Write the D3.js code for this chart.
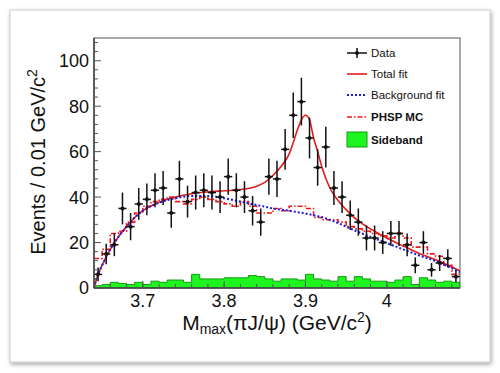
<!DOCTYPE html>
<html lang="en">
<head>
<meta charset="UTF-8">
<title>M_max(piJ/psi) fit</title>
<script src="https://d3js.org/d3.v7.min.js"></script>
<style>
    body { margin: 0; background: #fff; }
    svg text { font-family: "Liberation Sans", Arial, Helvetica, sans-serif; fill: #111; }
</style>
</head>
<body>
<script>
    // bins of 0.01 GeV/c2 starting at 3.64
    var binLow = 3.64, binWidth = 0.01;
    var dataCounts = [6, 15, 19, 35, 27, 37, 39, 43, 44, 33, 48, 38, 42, 43, 42, 40, 49, 43, 40, 34, 29, 49, 48,
        61, 76, 82, 66, 53, 62, 44, 40, 32, 29, 22, 22, 20, 24, 24, 19, 10, 20, 8, 11, 13, 5];
    var dataErrors = [3, 4.5, 5, 7, 6, 7, 7, 7.5, 7.5, 6.5, 8, 7, 7.5, 7.5, 7.5, 7, 8, 7.5, 7, 6.5, 6, 8, 8,
        9, 10, 10.5, 9, 8, 9, 7.5, 7, 6.5, 6, 5.5, 5.5, 5, 5.5, 5.5, 5, 3.5, 5, 3, 3.5, 4, 2.5];
    var phspCounts = [13, 17, 24, 25, 29, 33, 36, 38, 39, 40, 38, 37, 39, 40, 39, 38, 37, 36, 38, 36, 33, 33, 35,
        34, 36, 36, 35, 31, 30, 30, 29, 27, 26, 25, 24, 23, 22, 24, 22, 18, 18, 15, 14, 10, 6];
    var sidebandCounts = [1, 1.5, 2.5, 2, 1.5, 2.5, 1.5, 3, 2.5, 3.5, 3.5, 2.5, 6, 4, 4, 4, 4.5, 4.5, 4.5, 5.5, 5, 4, 3,
        4, 4, 3.5, 6, 4, 3.5, 3, 5, 3, 5, 4, 3, 3, 2.5, 3.5, 5, 1.5, 4.5, 3.5, 2.5, 3, 2.5];

    // fit curves
    var fitX = [3.64, 3.645, 3.65, 3.66, 3.67, 3.68, 3.69, 3.70, 3.72, 3.74, 3.76, 3.78, 3.80, 3.82, 3.84, 3.85,
        3.86, 3.87, 3.88, 3.885, 3.89, 3.895, 3.90, 3.905, 3.91, 3.915, 3.92, 3.93, 3.94, 3.95, 3.96, 3.98,
        4.00, 4.02, 4.04, 4.06, 4.08, 4.09];
    var bkgFit = [0, 6, 10, 17, 22.5, 27, 31, 34, 37.5, 39.5, 40.5, 40.5, 39.5, 38, 36.5, 35.8,
        35, 34.5, 34, 33.7, 33.4, 33.1, 32.8, 32.4, 32, 31.6, 31.2, 30, 28.6, 27, 25.4, 22.5,
        19.8, 17, 14.3, 11.8, 8.7, 7];
    var totalFit = [0, 6, 10, 17, 22.5, 27, 31, 34, 37.7, 40, 41.5, 42.3, 42.8, 43.3, 44.8, 46.5,
        49.5, 53.5, 59, 64, 69.5, 74, 76, 74, 66, 60, 53.5, 44, 38.5, 34.5, 31, 26,
        22, 18.5, 15.2, 12.4, 9.2, 7.5];

    var xTicks = [3.7, 3.8, 3.9, 4.0];
    var xTickLabels = ["3.7", "3.8", "3.9", "4"];
    var yTicks = [0, 20, 40, 60, 80, 100];

    var W = 500, H = 373;
    var svg = d3.select("body").append("svg")
        .attr("width", W)
        .attr("height", H);

    // card with shadow
    var defs = svg.append("defs");
    var f = defs.append("filter").attr("id", "shadow")
        .attr("x", "-5%").attr("y", "-5%").attr("width", "110%").attr("height", "112%");
    f.append("feDropShadow").attr("dx", 1).attr("dy", 2).attr("stdDeviation", 2)
        .attr("flood-color", "#000").attr("flood-opacity", 0.35);
    svg.append("rect")
        .attr("x", 10).attr("y", 10).attr("width", 480).attr("height", 352)
        .attr("fill", "#fff").attr("stroke", "#ccc")
        .attr("filter", "url(#shadow)");

    var x = d3.scaleLinear().domain([3.64, 4.09]).range([94, 460]);
    var y = d3.scaleLinear().domain([0, 110]).range([288, 38]);

    defs.append("clipPath").attr("id", "plotclip")
        .append("rect").attr("x", 94).attr("y", 38).attr("width", 366).attr("height", 250);

    var plot = svg.append("g").attr("clip-path", "url(#plotclip)");

    // sideband histogram (filled steps)
    var sideArea = d3.area()
        .x(function (d) { return x(d.x); })
        .y0(y(0))
        .y1(function (d) { return y(d.v); })
        .curve(d3.curveStepAfter);
    var sideData = sidebandCounts.map(function (v, i) { return { x: binLow + i * binWidth, v: v }; });
    sideData.push({ x: binLow + sidebandCounts.length * binWidth, v: sidebandCounts[sidebandCounts.length - 1] });
    plot.append("path")
        .attr("d", sideArea(sideData))
        .attr("fill", "#1ef51e")
        .attr("stroke", "#139a13")
        .attr("stroke-width", 1);

    // PHSP MC histogram (dash-dot steps)
    var stepLine = d3.line()
        .x(function (d) { return x(d.x); })
        .y(function (d) { return y(d.v); })
        .curve(d3.curveStepAfter);
    var phspData = phspCounts.map(function (v, i) { return { x: binLow + i * binWidth, v: v }; });
    phspData.push({ x: binLow + phspCounts.length * binWidth, v: phspCounts[phspCounts.length - 1] });
    plot.append("path")
        .attr("d", stepLine(phspData))
        .attr("fill", "none")
        .attr("stroke", "#f01818")
        .attr("stroke-width", 1.6)
        .attr("stroke-dasharray", "5,2,1.5,2");

    // fit curves
    var fitLine = d3.line()
        .x(function (d) { return x(d[0]); })
        .y(function (d) { return y(d[1]); })
        .curve(d3.curveMonotoneX);
    plot.append("path")
        .attr("d", fitLine(d3.zip(fitX, totalFit)))
        .attr("fill", "none")
        .attr("stroke", "#e41c1c")
        .attr("stroke-width", 1.6);
    plot.append("path")
        .attr("d", fitLine(d3.zip(fitX, bkgFit)))
        .attr("fill", "none")
        .attr("stroke", "#1a1ae6")
        .attr("stroke-width", 2)
        .attr("stroke-dasharray", "2,2");

    // data points with errors
    var pts = plot.selectAll(".pt")
        .data(dataCounts.map(function (v, i) { return { x: binLow + (i + 0.5) * binWidth, v: v, e: dataErrors[i] }; }))
        .enter().append("g").attr("class", "pt");
    pts.append("line")
        .attr("x1", function (d) { return x(d.x); })
        .attr("x2", function (d) { return x(d.x); })
        .attr("y1", function (d) { return y(d.v - d.e); })
        .attr("y2", function (d) { return y(d.v + d.e); })
        .attr("stroke", "#111").attr("stroke-width", 1.5);
    pts.append("line")
        .attr("x1", function (d) { return x(d.x - binWidth / 2); })
        .attr("x2", function (d) { return x(d.x + binWidth / 2); })
        .attr("y1", function (d) { return y(d.v); })
        .attr("y2", function (d) { return y(d.v); })
        .attr("stroke", "#111").attr("stroke-width", 1.5);
    pts.append("circle")
        .attr("cx", function (d) { return x(d.x); })
        .attr("cy", function (d) { return y(d.v); })
        .attr("r", 2)
        .attr("fill", "#111");

    // frame
    svg.append("rect")
        .attr("x", 94).attr("y", 38).attr("width", 366).attr("height", 250)
        .attr("fill", "none").attr("stroke", "#555").attr("stroke-width", 1);
    svg.append("line").attr("x1", 94).attr("x2", 94).attr("y1", 38).attr("y2", 288)
        .attr("stroke", "#444").attr("stroke-width", 1.5);
    svg.append("line").attr("x1", 94).attr("x2", 460).attr("y1", 288).attr("y2", 288)
        .attr("stroke", "#444").attr("stroke-width", 1.5);

    // y axis ticks (inside)
    var yMinor = d3.range(0, 111, 4).filter(function (v) { return v % 20 !== 0; });
    svg.selectAll(".ymin").data(yMinor).enter().append("line")
        .attr("x1", 94).attr("x2", 98)
        .attr("y1", function (d) { return y(d); }).attr("y2", function (d) { return y(d); })
        .attr("stroke", "#555").attr("stroke-width", 1);
    svg.selectAll(".ymaj").data(yTicks).enter().append("line")
        .attr("x1", 94).attr("x2", 101)
        .attr("y1", function (d) { return y(d); }).attr("y2", function (d) { return y(d); })
        .attr("stroke", "#555").attr("stroke-width", 1);
    svg.selectAll(".ylab").data(yTicks).enter().append("text")
        .attr("x", 89)
        .attr("y", function (d) { return y(d); })
        .attr("dy", "0.36em")
        .attr("text-anchor", "end")
        .attr("font-size", 18)
        .text(function (d) { return d; });

    // x axis ticks (inside)
    var xMinor = d3.range(0, 23).map(function (i) { return 3.64 + i * 0.02; });
    svg.selectAll(".xmin").data(xMinor).enter().append("line")
        .attr("x1", function (d) { return x(d); }).attr("x2", function (d) { return x(d); })
        .attr("y1", 288).attr("y2", 284)
        .attr("stroke", "#555").attr("stroke-width", 1);
    svg.selectAll(".xmaj").data(xTicks).enter().append("line")
        .attr("x1", function (d) { return x(d); }).attr("x2", function (d) { return x(d); })
        .attr("y1", 288).attr("y2", 281)
        .attr("stroke", "#555").attr("stroke-width", 1);
    svg.selectAll(".xlab").data(xTicks).enter().append("text")
        .attr("x", function (d) { return x(d); })
        .attr("y", 306.5)
        .attr("text-anchor", "middle")
        .attr("font-size", 18)
        .text(function (d, i) { return xTickLabels[i]; });

    // axis titles
    var xt = svg.append("text")
        .attr("x", 277).attr("y", 330)
        .attr("text-anchor", "middle")
        .attr("font-size", 21);
    xt.append("tspan").text("M");
    xt.append("tspan").attr("font-size", 14).attr("dy", 4).text("max");
    xt.append("tspan").attr("dy", -4).text("(\u03c0J/\u03c8) (GeV/c");
    xt.append("tspan").attr("font-size", 14).attr("dy", -8).text("2");
    xt.append("tspan").attr("dy", 8).text(")");

    var yt = svg.append("text")
        .attr("transform", "translate(45,162) rotate(-90)")
        .attr("text-anchor", "middle")
        .attr("font-size", 20);
    yt.append("tspan").text("Events / 0.01 GeV/c");
    yt.append("tspan").attr("font-size", 14).attr("dy", -8).text("2");

    // legend
    var lg = svg.append("g").attr("font-size", 11.5);
    var lx0 = 347, lx1 = 367, ltx = 371;
    lg.append("line").attr("x1", lx0).attr("x2", lx1).attr("y1", 53).attr("y2", 53)
        .attr("stroke", "#111").attr("stroke-width", 1.5);
    lg.append("line").attr("x1", 357).attr("x2", 357).attr("y1", 48).attr("y2", 58)
        .attr("stroke", "#111").attr("stroke-width", 1.5);
    lg.append("circle").attr("cx", 357).attr("cy", 53).attr("r", 2).attr("fill", "#111");
    lg.append("text").attr("x", ltx).attr("y", 57).text("Data");

    lg.append("line").attr("x1", lx0).attr("x2", lx1).attr("y1", 74).attr("y2", 74)
        .attr("stroke", "#e41c1c").attr("stroke-width", 1.6);
    lg.append("text").attr("x", ltx).attr("y", 78).text("Total fit");

    lg.append("line").attr("x1", lx0).attr("x2", lx1).attr("y1", 95).attr("y2", 95)
        .attr("stroke", "#1a1ae6").attr("stroke-width", 2).attr("stroke-dasharray", "2,2");
    lg.append("text").attr("x", ltx).attr("y", 99).text("Background fit");

    lg.append("line").attr("x1", lx0).attr("x2", lx1).attr("y1", 117).attr("y2", 117)
        .attr("stroke", "#f01818").attr("stroke-width", 1.6).attr("stroke-dasharray", "5,2,1.5,2");
    lg.append("text").attr("x", ltx).attr("y", 121).attr("font-weight", "bold").text("PHSP MC");

    lg.append("rect").attr("x", lx0).attr("y", 132).attr("width", 20).attr("height", 15)
        .attr("fill", "#1ef51e").attr("stroke", "#139a13").attr("stroke-width", 1);
    lg.append("text").attr("x", ltx).attr("y", 144).attr("font-weight", "bold").text("Sideband");
</script>
</body>
</html>
